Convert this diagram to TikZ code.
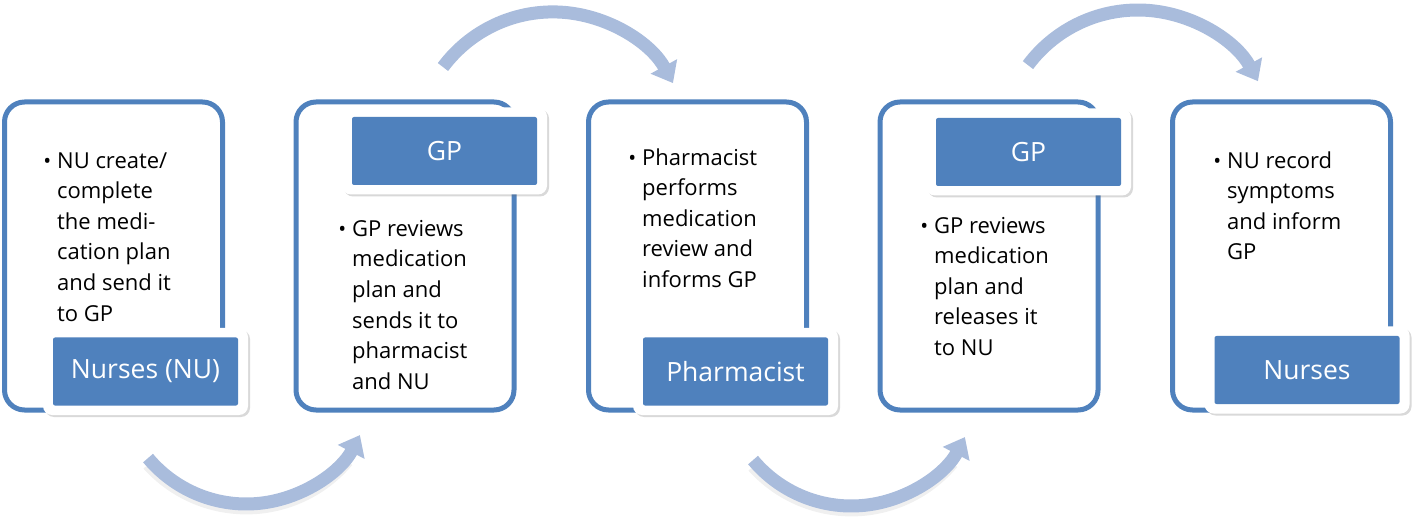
\documentclass[tikz,border=0pt]{standalone}
\usepackage{fontspec}
\setmainfont{Open Sans}
\usetikzlibrary{arrows.meta,shadows,calc}
\definecolor{bord}{HTML}{4F81BD}
\definecolor{labfill}{HTML}{4F81BD}
\definecolor{arrc}{HTML}{A9BCDC}
\newcommand\mybul{\llap{{\fontsize{21}{21}\selectfont•}\hspace{6pt}}\rule{0pt}{17pt}}
\begin{document}
\begin{tikzpicture}[x=1pt,y=-1pt,
  card/.style={draw=bord, line width=5pt, rounded corners=20pt, fill=white,
    minimum width=218pt, minimum height=308pt, inner sep=0pt},
  labouter/.style={fill=white, rounded corners=9pt, minimum width=205pt, minimum height=87pt,
    drop shadow={shadow xshift=2pt, shadow yshift=-2pt, opacity=0.25, fill=black!60}},
  labinner/.style={fill=labfill, rounded corners=2pt, minimum width=185pt, minimum height=68pt,
    text=white, font=\fontsize{26.5}{30}\selectfont},
  body/.style={anchor=north west, align=left, inner sep=0pt, font=\fontsize{22}{30.6}\selectfont},
  flow/.style={draw=arrc, line width=13pt, -{Triangle[length=19pt,width=29pt]}},
  flowshadow/.style={draw=black, opacity=0.06, line width=15pt}]
\useasboundingbox (0,0) rectangle (1418,526);

% cards
\node[card] (c1) at (113.5,256) {};
\node[card] (c2) at (405,256) {};
\node[card] (c3) at (697.5,256) {};
\node[card] (c4) at (989,256) {};
\node[card] (c5) at (1281.5,256) {};

% body texts
\node[body] (t1) at (57,151) {\mybul NU create/\\complete\\the medi-\\cation plan\\and send it\\to GP};
\node[body] (t2) at (352,219) {\mybul GP reviews\\medication\\plan and\\sends it to\\pharmacist\\and NU};
\node[body] (t3) at (642,148) {\mybul Pharmacist\\performs\\medication\\review and\\informs GP};
\node[body] (t4) at (934,216) {\mybul GP reviews\\medication\\plan and\\releases it\\to NU};
\node[body] (t5) at (1227,151) {\mybul NU record\\symptoms\\and inform\\GP};

% labels
\node[labouter] (o1) at (145.5,371.5) {};
\node[labinner] (l1) at (o1.center) {Nurses (NU)};
\node[labouter] (o2) at (444.5,151) {};
\node[labinner] (l2) at (o2.center) {GP};
\node[labouter] (o3) at (735.5,371.5) {};
\node[labinner] (l3) at (o3.center) {Pharmacist};
\node[labouter] (o4) at (1028.5,152) {};
\node[labinner] (l4) at (o4.center) {GP};
\node[labouter] (o5) at (1307,370) {};
\node[labinner] (l5) at (o5.center) {Nurses};

% curved arrows
\coordinate (k1) at (552.8,148.9);
\coordinate (k2) at (1137.8,147);
\coordinate (k3) at (246.3,375.9);
\coordinate (k4) at (851.3,377.9);
\coordinate (s1) at ($(k1)+(-143.3:137)$);
\coordinate (s2) at ($(k2)+(-143.3:137)$);
\coordinate (s3) at ($(k3)+(140.1:128.1)$);
\coordinate (s4) at ($(k4)+(140.1:128.1)$);
\coordinate (s3b) at ($(k3)+(138:131)$);
\coordinate (s4b) at ($(k4)+(138:131)$);
\draw[flowshadow] (s3b) arc[start angle=138,end angle=40,radius=131];
\draw[flowshadow] (s4b) arc[start angle=138,end angle=40,radius=131];
\draw[flow] (s1) arc[start angle=-143.3,end angle=-28.7,radius=137];
\draw[flow] (s2) arc[start angle=-143.3,end angle=-28.7,radius=137];
\draw[flow] (s3) arc[start angle=140.1,end angle=27.5,radius=128.1];
\draw[flow] (s4) arc[start angle=140.1,end angle=27.5,radius=128.1];
\end{tikzpicture}
\end{document}
